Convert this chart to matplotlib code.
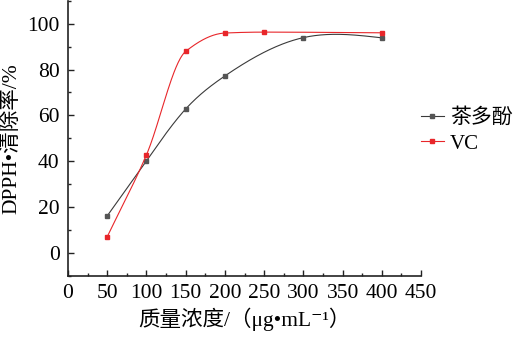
import numpy as np
import matplotlib.pyplot as plt
from matplotlib.ticker import MultipleLocator

plt.rcParams['font.family'] = ['Liberation Serif', 'Noto Sans CJK SC', 'DejaVu Serif']

conc = [50, 100, 150, 200, 300, 400]
tea_polyphenol = [16.2, 40.2, 62.8, 77.2, 93.9, 93.8]

conc_vc = [50, 100, 150, 200, 250, 400]
vc = [7.1, 42.8, 87.9, 95.9, 96.3, 96.0]


# Natural cubic spline through the points
def natural_spline(x, y, xs):
    x = np.asarray(x, float)
    y = np.asarray(y, float)
    n = len(x)
    h = np.diff(x)
    A = np.zeros((n, n))
    b = np.zeros(n)
    A[0, 0] = A[-1, -1] = 1
    for i in range(1, n - 1):
        A[i, i - 1] = h[i - 1]
        A[i, i] = 2 * (h[i - 1] + h[i])
        A[i, i + 1] = h[i]
        b[i] = 6 * ((y[i + 1] - y[i]) / h[i] - (y[i] - y[i - 1]) / h[i - 1])
    m = np.linalg.solve(A, b)
    idx = np.clip(np.searchsorted(x, xs) - 1, 0, n - 2)
    t = xs - x[idx]
    hi = h[idx]
    a = (m[idx + 1] - m[idx]) / (6 * hi)
    bb = m[idx] / 2
    c = (y[idx + 1] - y[idx]) / hi - hi * (2 * m[idx] + m[idx + 1]) / 6
    return y[idx] + c * t + bb * t ** 2 + a * t ** 3


# Monotone (PCHIP-style) cubic through the points
def pchip(x, y, xs):
    x = np.asarray(x, float)
    y = np.asarray(y, float)
    h = np.diff(x)
    d = np.diff(y) / h
    n = len(x)
    s = np.zeros(n)
    for i in range(1, n - 1):
        if d[i - 1] * d[i] > 0:
            w1 = 2 * h[i] + h[i - 1]
            w2 = h[i] + 2 * h[i - 1]
            s[i] = (w1 + w2) / (w1 / d[i - 1] + w2 / d[i])
    s[0] = d[0]
    s[-1] = d[-1]
    idx = np.clip(np.searchsorted(x, xs) - 1, 0, n - 2)
    t = (xs - x[idx]) / h[idx]
    h00 = 2 * t ** 3 - 3 * t ** 2 + 1
    h10 = t ** 3 - 2 * t ** 2 + t
    h01 = -2 * t ** 3 + 3 * t ** 2
    h11 = t ** 3 - t ** 2
    return h00 * y[idx] + h10 * h[idx] * s[idx] + h01 * y[idx + 1] + h11 * h[idx] * s[idx + 1]


fig = plt.figure(figsize=(5.17, 3.42), dpi=100)
ax = fig.add_axes([0.1315, 0.193, 0.683, 0.805])

xs = np.linspace(50, 400, 400)
black = '#3a3a3a'
red = '#e8262a'

ax.plot(xs, natural_spline(conc, tea_polyphenol, xs), color=black, lw=0.8)
ax.plot(conc, tea_polyphenol, 's', color='#555555', ms=2.2)
ax.plot(xs, pchip(conc_vc, vc, xs), color=red, lw=0.8)
ax.plot(conc_vc, vc, 's', color=red, ms=2.2)

# legend proxies
ax.plot([], [], color=black, lw=0.8, marker='s', ms=2.2, mfc='#555555', mec='#555555', label='茶多酚')
ax.plot([], [], color=red, lw=0.8, marker='s', ms=2.2, label='VC')

ax.set_xlim(0, 450)
ax.set_ylim(-10, 110)
ax.xaxis.set_major_locator(MultipleLocator(50))
ax.xaxis.set_minor_locator(MultipleLocator(25))
ax.set_yticks([0, 20, 40, 60, 80, 100])
ax.yaxis.set_minor_locator(MultipleLocator(10))
ax.tick_params(which='both', direction='in', labelsize=15.5, color='#222222', width=1)
ax.tick_params(which='major', length=4, pad=6)
ax.tick_params(which='minor', length=2.5)

for side in ['top', 'right']:
    ax.spines[side].set_visible(False)
for side in ['left', 'bottom']:
    ax.spines[side].set_linewidth(1.2)
    ax.spines[side].set_color('#222222')

ax.set_xlabel('质量浓度/（μg•mL⁻¹）', fontsize=15.5, labelpad=3)
ax.set_ylabel('DPPH•清除率/%', fontsize=15.5, labelpad=4)

handles, labels = ax.get_legend_handles_labels()
fig.legend(handles[-2:], labels[-2:], loc='center left', bbox_to_anchor=(0.814, 0.617),
           frameon=False, fontsize=15, handlelength=1.1, handletextpad=0.3,
           borderpad=0, borderaxespad=0, labelspacing=0.3)

fig.savefig('out.png', dpi=100)
